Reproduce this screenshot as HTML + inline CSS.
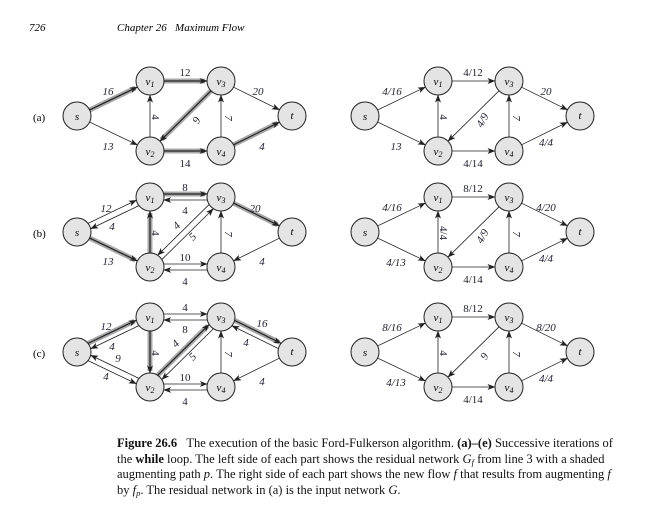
<!DOCTYPE html>
<html><head><meta charset="utf-8"><style>
body{margin:0;background:#fff;width:645px;height:508px;overflow:hidden;font-family:"Liberation Serif",serif;}
svg{position:absolute;left:0;top:0}
.cap{position:absolute;left:117px;top:436px;font-size:12.5px;line-height:15.6px;color:#111;}
.cap div{white-space:nowrap}
.cap sub{font-size:8.5px;line-height:0;vertical-align:-2px}
</style></head><body>
<svg id="g" width="645" height="508" xmlns="http://www.w3.org/2000/svg" font-family="Liberation Serif, serif">
<defs><marker id="ah" markerWidth="8" markerHeight="6" refX="7.5" refY="3" orient="auto" markerUnits="userSpaceOnUse"><path d="M0,0 L8,3 L0,6 L2,3 Z" fill="#222"/></marker></defs>
<g id="edges"></g><g id="nodes"></g>
<text x="29" y="31" font-size="11" font-style="italic">726</text>
<text x="117" y="31" font-size="11" font-style="italic">Chapter 26 &#160; Maximum Flow</text>
<text x="33" y="121" font-size="11">(a)</text>
<text x="33" y="237" font-size="11">(b)</text>
<text x="33" y="357" font-size="11">(c)</text>
<g font-size="11" font-style="italic" fill="#223" text-anchor="middle" id="labels">
<text x="108" y="95">16</text><text x="108" y="150">13</text><text x="185" y="76" font-style="normal">12</text>
<text x="156" y="121" font-style="normal" transform="rotate(90 156 117)">4</text><text x="196" y="124" transform="rotate(-60 196 120)">9</text>
<text x="258" y="95">20</text><text x="185" y="167" font-style="normal">14</text><text x="228" y="121" transform="rotate(90 228 118)">7</text><text x="262" y="150">4</text>
<text x="106" y="212">12</text><text x="112" y="230">4</text><text x="108" y="265">13</text>
<text x="185" y="191" font-style="normal">8</text><text x="185" y="214" font-style="normal">4</text>
<text x="156" y="237" font-style="normal" transform="rotate(90 156 233)">4</text>
<text x="177" y="229" transform="rotate(-45 177 226)">4</text><text x="193" y="240" transform="rotate(-45 193 237)">5</text>
<text x="228" y="237" transform="rotate(90 228 234)">7</text><text x="255" y="212">20</text><text x="262" y="265">4</text>
<text x="185" y="261" font-style="normal">10</text><text x="185" y="285" font-style="normal">4</text>
<text x="106" y="330">12</text><text x="112" y="350">4</text><text x="118" y="362">9</text><text x="106" y="380">4</text>
<text x="185" y="311" font-style="normal">4</text><text x="185" y="333" font-style="normal">8</text>
<text x="156" y="357" font-style="normal" transform="rotate(90 156 353)">4</text>
<text x="176" y="347" transform="rotate(-45 176 344)">4</text><text x="193" y="360" transform="rotate(-45 193 357)">5</text>
<text x="228" y="357" transform="rotate(90 228 354)">7</text><text x="262" y="327">16</text><text x="246" y="346">4</text><text x="262" y="385">4</text>
<text x="185" y="381" font-style="normal">10</text><text x="185" y="405" font-style="normal">4</text>
<text x="392" y="95">4/16</text><text x="396" y="150">13</text><text x="473" y="76" font-style="normal">4/12</text>
<text x="444" y="121" font-style="normal" transform="rotate(90 444 117)">4</text><text x="482" y="124" transform="rotate(-60 482 120)">4/9</text>
<text x="546" y="95">20</text><text x="473" y="167" font-style="normal">4/14</text><text x="516" y="121" transform="rotate(90 516 118)">7</text><text x="546" y="146">4/4</text>
<text x="392" y="211">4/16</text><text x="396" y="266">4/13</text><text x="473" y="192" font-style="normal">8/12</text>
<text x="444" y="237" font-style="normal" transform="rotate(90 444 233)">4/4</text><text x="482" y="240" transform="rotate(-60 482 236)">4/9</text>
<text x="546" y="211">4/20</text><text x="473" y="283" font-style="normal">4/14</text><text x="516" y="237" transform="rotate(90 516 234)">7</text><text x="546" y="262">4/4</text>
<text x="392" y="331">8/16</text><text x="396" y="386">4/13</text><text x="473" y="312" font-style="normal">8/12</text>
<text x="444" y="357" font-style="normal" transform="rotate(90 444 353)">4</text><text x="484" y="360" transform="rotate(-60 484 356)">9</text>
<text x="546" y="331">8/20</text><text x="473" y="403" font-style="normal">4/14</text><text x="516" y="357" transform="rotate(90 516 354)">7</text><text x="546" y="382">4/4</text>
</g>
<g font-size="11" font-style="italic" text-anchor="middle" id="nl">
<text x="77" y="120">s</text><text x="150" y="85">v<tspan font-size="8" dy="2">1</tspan></text><text x="221" y="85">v<tspan font-size="8" dy="2">3</tspan></text><text x="292" y="119">t</text><text x="150" y="155">v<tspan font-size="8" dy="2">2</tspan></text><text x="221" y="155">v<tspan font-size="8" dy="2">4</tspan></text>
<text x="77" y="236">s</text><text x="150" y="201">v<tspan font-size="8" dy="2">1</tspan></text><text x="221" y="201">v<tspan font-size="8" dy="2">3</tspan></text><text x="292" y="235">t</text><text x="150" y="271">v<tspan font-size="8" dy="2">2</tspan></text><text x="221" y="271">v<tspan font-size="8" dy="2">4</tspan></text>
<text x="77" y="356">s</text><text x="150" y="321">v<tspan font-size="8" dy="2">1</tspan></text><text x="221" y="321">v<tspan font-size="8" dy="2">3</tspan></text><text x="292" y="355">t</text><text x="150" y="391">v<tspan font-size="8" dy="2">2</tspan></text><text x="221" y="391">v<tspan font-size="8" dy="2">4</tspan></text>
<text x="365" y="120">s</text><text x="438" y="85">v<tspan font-size="8" dy="2">1</tspan></text><text x="509" y="85">v<tspan font-size="8" dy="2">3</tspan></text><text x="580" y="119">t</text><text x="438" y="155">v<tspan font-size="8" dy="2">2</tspan></text><text x="509" y="155">v<tspan font-size="8" dy="2">4</tspan></text>
<text x="365" y="236">s</text><text x="438" y="201">v<tspan font-size="8" dy="2">1</tspan></text><text x="509" y="201">v<tspan font-size="8" dy="2">3</tspan></text><text x="580" y="235">t</text><text x="438" y="271">v<tspan font-size="8" dy="2">2</tspan></text><text x="509" y="271">v<tspan font-size="8" dy="2">4</tspan></text>
<text x="365" y="356">s</text><text x="438" y="321">v<tspan font-size="8" dy="2">1</tspan></text><text x="509" y="321">v<tspan font-size="8" dy="2">3</tspan></text><text x="580" y="355">t</text><text x="438" y="391">v<tspan font-size="8" dy="2">2</tspan></text><text x="509" y="391">v<tspan font-size="8" dy="2">4</tspan></text>
</g>
</svg>
<div class="cap">
<div><b>Figure 26.6</b>&#160;&#160; The execution of the basic Ford-Fulkerson algorithm. <b>(a)–(e)</b> Successive iterations of</div>
<div>the <b>while</b> loop. The left side of each part shows the residual network <i>G<sub>f</sub></i> from line 3 with a shaded</div>
<div>augmenting path <i>p</i>. The right side of each part shows the new flow <i>f</i> that results from augmenting <i>f</i></div>
<div>by <i>f<sub>p</sub></i>. The residual network in (a) is the input network <i>G</i>.</div>
</div>
<script>
var NS="http://www.w3.org/2000/svg",E=document.getElementById("edges"),N=document.getElementById("nodes"),R=14;
function P(name,dx,dy){var p={s:[77,116],v1:[150,81],v3:[221,81],t:[292,116],v2:[150,151],v4:[221,151]}[name];return [p[0]+dx,p[1]+dy];}
function ln(x1,y1,x2,y2,w,c,m){var l=document.createElementNS(NS,"line");l.setAttribute("x1",x1);l.setAttribute("y1",y1);l.setAttribute("x2",x2);l.setAttribute("y2",y2);l.setAttribute("stroke",c);l.setAttribute("stroke-width",w);if(m)l.setAttribute("marker-end","url(#ah)");E.appendChild(l);}
function edge(a,b,dx,dy,off,sh){var A=P(a,dx,dy),B=P(b,dx,dy),vx=B[0]-A[0],vy=B[1]-A[1],L=Math.hypot(vx,vy),ux=vx/L,uy=vy/L,px=-uy*off,py=ux*off;
var d=off?Math.sqrt(Math.max(R*R-off*off,0)):R;
var x1=A[0]+ux*d+px,y1=A[1]+uy*d+py,x2=B[0]-ux*d+px,y2=B[1]-uy*d+py;
if(sh)ln(x1,y1,x2-ux*2,y2-uy*2,5,"#a8a8a8",false);ln(x1,y1,x2,y2,sh?1.2:0.8,"#222",true);}
function node(dx,dy){["s","v1","v3","t","v2","v4"].forEach(function(n){var p=P(n,dx,dy),c=document.createElementNS(NS,"circle");c.setAttribute("cx",p[0]);c.setAttribute("cy",p[1]);c.setAttribute("r",R);c.setAttribute("fill","#e4e4e4");c.setAttribute("stroke","#222");c.setAttribute("stroke-width","1");N.appendChild(c);});}
var o=0;
edge("s","v1",0,o,0,1);edge("s","v2",0,o,0,0);edge("v1","v3",0,o,0,1);edge("v2","v1",0,o,0,0);edge("v3","v2",0,o,0,1);edge("v3","t",0,o,0,0);edge("v2","v4",0,o,0,1);edge("v4","v3",0,o,0,0);edge("v4","t",0,o,0,1);
o=116;
edge("s","v1",0,o,-3,0);edge("v1","s",0,o,-3,0);edge("s","v2",0,o,0,1);edge("v1","v3",0,o,-3,1);edge("v3","v1",0,o,-3,0);edge("v2","v1",0,o,0,1);
edge("v2","v3",0,o,3,0);edge("v3","v2",0,o,3,0);edge("v4","v3",0,o,0,0);edge("v3","t",0,o,0,1);edge("t","v4",0,o,0,0);edge("v2","v4",0,o,-3,0);edge("v4","v2",0,o,-3,0);
o=236;
edge("s","v1",0,o,-3,1);edge("v1","s",0,o,-3,0);edge("s","v2",0,o,3,0);edge("v2","s",0,o,3,0);edge("v1","v3",0,o,-3,0);edge("v3","v1",0,o,-3,0);edge("v1","v2",0,o,0,1);
edge("v2","v3",0,o,-3,1);edge("v3","v2",0,o,-3,0);edge("v3","t",0,o,-3,1);edge("t","v3",0,o,-3,0);edge("t","v4",0,o,0,0);edge("v4","v3",0,o,0,0);edge("v2","v4",0,o,-3,0);edge("v4","v2",0,o,-3,0);
[0,116,236].forEach(function(oy){var dx=288;
edge("s","v1",dx,oy,0,0);edge("s","v2",dx,oy,0,0);edge("v1","v3",dx,oy,0,0);edge("v2","v1",dx,oy,0,0);edge("v3","v2",dx,oy,0,0);edge("v3","t",dx,oy,0,0);edge("v2","v4",dx,oy,0,0);edge("v4","v3",dx,oy,0,0);edge("v4","t",dx,oy,0,0);});
[0,116,236].forEach(function(oy){node(0,oy);node(288,oy);});
</script>
</body></html>
